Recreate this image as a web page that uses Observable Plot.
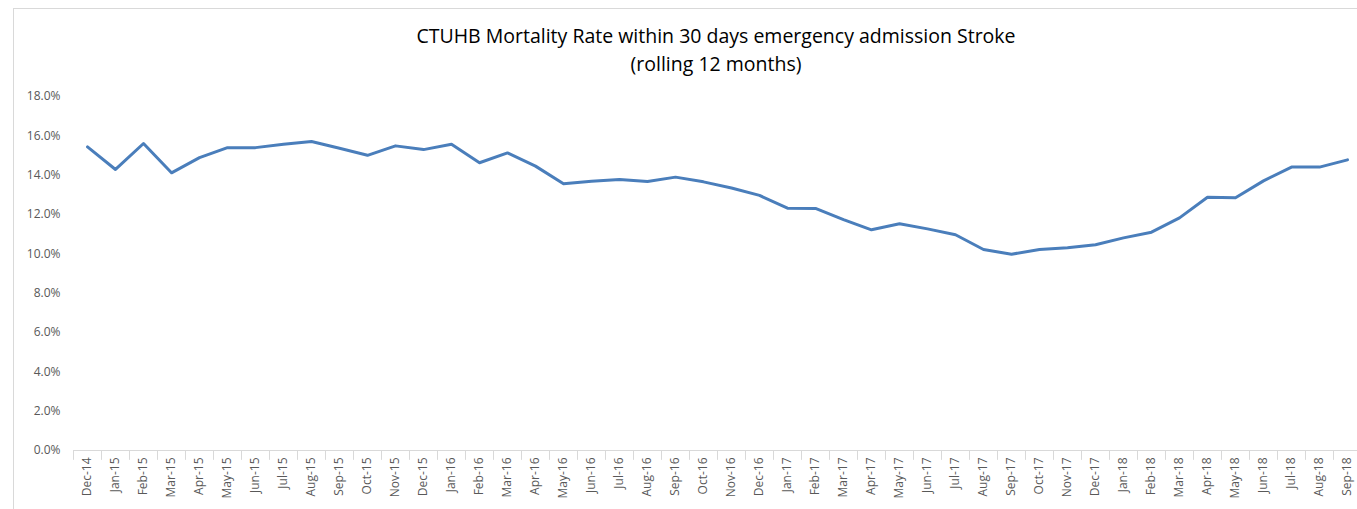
<!DOCTYPE html>
<html>
<head>
<meta charset="utf-8">
<script src="https://cdn.jsdelivr.net/npm/d3@7"></script>
<script src="https://cdn.jsdelivr.net/npm/@observablehq/plot@0.6"></script>
<style>
  html, body { margin: 0; padding: 0; background: #fff; }
  #wrap { position: relative; width: 1357px; height: 509px; overflow: hidden; font-family: "Open Sans", sans-serif; }
  #frame { position: absolute; left: 13px; top: 8px; width: 1400px; height: 600px; border-left: 1px solid #d9d9d9; border-top: 1px solid #d9d9d9; }
  #title { position: absolute; left: 0; width: 1432px; top: 22px; text-align: center; font-size: 19.5px; line-height: 28px; color: #000; }
  #chart { position: absolute; left: 0; top: 80px; }
</style>
</head>
<body>
<div id="wrap">
  <div id="frame"></div>
  <div id="title">CTUHB Mortality Rate within 30 days emergency admission Stroke<br>(rolling 12 months)</div>
  <div id="chart"></div>
</div>
<script>
const months = ["Dec-14","Jan-15","Feb-15","Mar-15","Apr-15","May-15","Jun-15","Jul-15","Aug-15","Sep-15","Oct-15","Nov-15","Dec-15",
  "Jan-16","Feb-16","Mar-16","Apr-16","May-16","Jun-16","Jul-16","Aug-16","Sep-16","Oct-16","Nov-16","Dec-16",
  "Jan-17","Feb-17","Mar-17","Apr-17","May-17","Jun-17","Jul-17","Aug-17","Sep-17","Oct-17","Nov-17","Dec-17",
  "Jan-18","Feb-18","Mar-18","Apr-18","May-18","Jun-18","Jul-18","Aug-18","Sep-18"];
const rates = [15.44,14.29,15.61,14.12,14.89,15.40,15.40,15.57,15.71,15.37,15.01,15.49,15.30,
  15.57,14.63,15.13,14.46,13.56,13.69,13.78,13.68,13.90,13.66,13.35,12.97,
  12.32,12.31,11.74,11.22,11.53,11.27,10.97,10.22,9.98,10.22,10.31,10.46,
  10.81,11.10,11.83,12.88,12.85,13.71,14.41,14.41,14.78];
const yTicks = [0,2,4,6,8,10,12,14,16,18];

const data = months.map((m, i) => ({month: m, rate: rates[i]}));
const grey = "#d9d9d9";
const textCol = "#595959";

const chart = Plot.plot({
  width: 1357,
  height: 429,
  marginTop: 16,
  marginBottom: 59,
  marginLeft: 73,
  marginRight: 0,
  style: {fontFamily: "Open Sans, sans-serif", fontSize: "12px", color: textCol, background: "transparent"},
  x: {type: "band", domain: months, range: [73, 1361], padding: 0},
  y: {domain: [0, 18], range: [370, 16]},
  marks: [
    Plot.ruleY(yTicks.filter(d => d > 0), {stroke: grey, strokeWidth: 1, x1: months[0], dx: -14}),
    Plot.ruleY([0], {stroke: grey, strokeWidth: 1}),
    Plot.ruleX(months, {x: d => d, y1: 0, y2: -0.5, stroke: grey, dx: -14}),
    Plot.axisY({ticks: yTicks, tickSize: 0, tickPadding: 13, tickFormat: d => d.toFixed(1) + "%", fill: textCol, label: null, fontSize: 12}),
    Plot.axisX({tickSize: 0, tickRotate: -90, tickPadding: 7, fill: textCol, label: null, fontSize: 12}),
    Plot.line(data, {x: "month", y: "rate", stroke: "#4a7ebb", strokeWidth: 3, strokeLinejoin: "round", strokeLinecap: "round"})
  ]
});
document.getElementById("chart").appendChild(chart);
</script>
</body>
</html>
